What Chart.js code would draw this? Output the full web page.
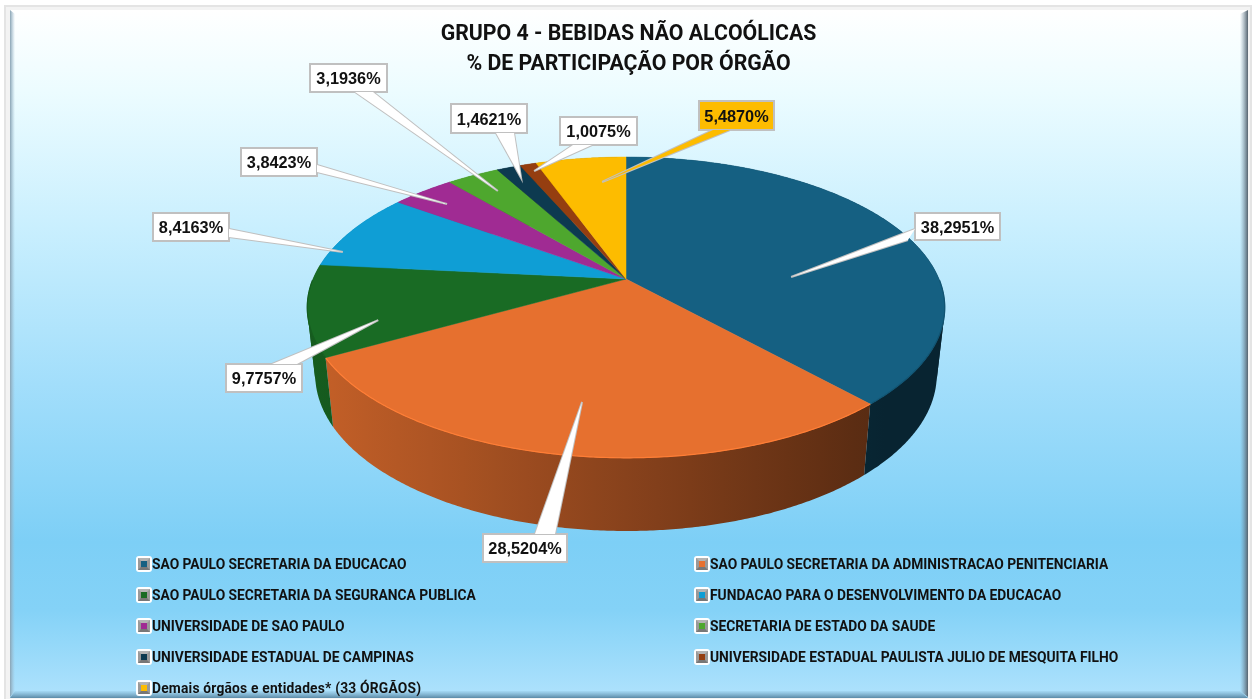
<!DOCTYPE html>
<html lang="pt-BR">
<head>
<meta charset="utf-8">
<title>Grupo 4 - Bebidas não alcoólicas</title>
<script src="https://cdn.jsdelivr.net/npm/chart.js@4"></script>
<style>
    html, body { margin: 0; padding: 0; background: #fff; }
    #wrap { position: relative; width: 1257px; height: 699px; overflow: hidden; }
    canvas { position: absolute; left: 0; top: 0; }
    #legend { position: absolute; left: 0; top: 0; font: 700 13.8px Roboto, sans-serif; color: #111; }
    .item { position: absolute; display: flex; align-items: center; white-space: nowrap; height: 18px; }
    .swatch { width: 16px; height: 16px; box-sizing: border-box; background: #fff; border-radius: 3px; padding: 2px; margin-right: 0; }
    .swatch i { display: block; width: 12px; height: 12px; box-sizing: border-box; border: 3px solid #999; border-top-color: #b4b4b4; border-bottom-color: #777; }
</style>
</head>
<body>
<div id="wrap">
    <canvas id="pie-chart" width="1257" height="699"></canvas>
    <div id="legend"></div>
</div>
<script>
const titleLines = ['GRUPO 4 - BEBIDAS NÃO ALCOÓLICAS', '% DE PARTICIPAÇÃO POR ÓRGÃO'];

const categories = [
    'SAO PAULO SECRETARIA DA EDUCACAO',
    'SAO PAULO SECRETARIA DA ADMINISTRACAO PENITENCIARIA',
    'SAO PAULO SECRETARIA DA SEGURANCA PUBLICA',
    'FUNDACAO PARA O DESENVOLVIMENTO DA EDUCACAO',
    'UNIVERSIDADE DE SAO PAULO',
    'SECRETARIA DE ESTADO DA SAUDE',
    'UNIVERSIDADE ESTADUAL DE CAMPINAS',
    'UNIVERSIDADE ESTADUAL PAULISTA JULIO DE MESQUITA FILHO',
    'Demais órgãos e entidades* (33 ÓRGÃOS)',
];
const shares = [38.2951, 28.5204, 9.7757, 8.4163, 3.8423, 3.1936, 1.4621, 1.0075, 5.4870];
const sliceColors = ['#156082', '#E6702F', '#196B24', '#0F9ED5', '#A02B93', '#4EA72E', '#0D3A50', '#953E10', '#FDBC00'];

// callout boxes [left, top, right, bottom] and the two points where the wedge leaves the box
const calloutBoxes = [
    [915, 213, 1000, 240], [483, 534, 567, 562], [226, 364, 302, 392],
    [153, 213, 229, 241], [241, 148, 317, 176], [310, 64, 387, 92],
    [451, 104, 527, 133], [560, 117, 637, 145], [699, 101, 774, 130],
];
const calloutBases = [
    [915, 229, 908, 240], [535, 534, 555, 534], [272, 364, 297, 364],
    [229, 229, 229, 237], [317, 165, 317, 172], [355, 92, 373, 92],
    [496, 133, 514, 133], [573, 145, 592, 145], [713, 130, 730, 130],
];
// wedge tips on the pie: degrees clockwise from the top, and fraction of the radius
const tipAngles = [88.5, 189.4, 250.3, 281.6, 312.1, 326, 334.3, 338.5, 353.5];
const tipRadii = [0.529, 0.741, 0.798, 0.957, 0.854, 0.827, 0.89, 0.932, 0.771];

// perspective of the tilted disc
const pie = { cx: 626, cy: 279, a: 313, b: 145, k: -0.189 };

const project = (r, angle) => {
    const u = r * Math.sin(angle);
    const v = -r * Math.cos(angle);
    const w = 1 + pie.k * v;
    return { x: pie.cx + pie.a * u / w, y: pie.cy + pie.b * v / w };
};

// the rim point dropped down to the bottom of the disc
const drop = (p) => ({ x: pie.cx + (p.x - pie.cx) * 0.975, y: p.y + 71 + (p.y - 403) * 0.04 });

const shade = (hex, f) => {
    const n = parseInt(hex.slice(1), 16);
    const c = [(n >> 16) & 255, (n >> 8) & 255, n & 255].map((x) => Math.min(255, Math.round(x * f)));
    return `rgb(${c[0]},${c[1]},${c[2]})`;
};

const framePlugin = {
    id: 'frame',
    beforeDraw(chart) {
        const ctx = chart.ctx;
        ctx.save();
        ctx.fillStyle = '#fff';
        ctx.fillRect(0, 0, 1257, 699);
        ctx.fillStyle = '#e4e4e4';
        ctx.fillRect(4, 5, 1248, 694);
        ctx.fillStyle = '#f3f3f3';
        ctx.fillRect(6, 7, 1244, 692);

        const bg = ctx.createLinearGradient(0, 10, 0, 692);
        bg.addColorStop(0, '#ffffff');
        bg.addColorStop(0.12, '#ecfcff');
        bg.addColorStop(0.32, '#c9effe');
        bg.addColorStop(0.55, '#a2defb');
        bg.addColorStop(0.78, '#7dcff6');
        bg.addColorStop(0.88, '#84d2f7');
        bg.addColorStop(1, '#ace1fc');
        ctx.fillStyle = bg;
        ctx.fillRect(10, 10, 1238, 688);

        const left = ctx.createLinearGradient(10, 0, 15, 0);
        left.addColorStop(0, '#8aa4b4');
        left.addColorStop(1, 'rgba(160,190,210,0)');
        ctx.fillStyle = left;
        ctx.beginPath();
        ctx.moveTo(10, 10);
        ctx.lineTo(15, 14);
        ctx.lineTo(15, 691);
        ctx.lineTo(10, 697);
        ctx.fill();

        const right = ctx.createLinearGradient(1240, 0, 1248, 0);
        right.addColorStop(0, 'rgba(120,150,170,0)');
        right.addColorStop(1, '#56636e');
        ctx.fillStyle = right;
        ctx.beginPath();
        ctx.moveTo(1248, 10);
        ctx.lineTo(1240, 14);
        ctx.lineTo(1240, 691);
        ctx.lineTo(1248, 697);
        ctx.fill();

        const bottom = ctx.createLinearGradient(0, 690, 0, 698);
        bottom.addColorStop(0, 'rgba(110,160,190,0)');
        bottom.addColorStop(1, '#5b8aa6');
        ctx.fillStyle = bottom;
        ctx.beginPath();
        ctx.moveTo(15, 691);
        ctx.lineTo(1240, 691);
        ctx.lineTo(1248, 698);
        ctx.lineTo(10, 698);
        ctx.fill();
        ctx.restore();
    },
};

const wallShade = (x) => Math.max(0.38, 0.84 - (x - 330) * 0.00084);

const fillStrip = (ctx, rim) => {
    if (rim.length < 2) return;
    ctx.beginPath();
    rim.forEach((p, n) => (n ? ctx.lineTo(p.x, p.y) : ctx.moveTo(p.x, p.y)));
    rim.slice().reverse().forEach((p) => {
        const q = drop(p);
        ctx.lineTo(q.x, q.y);
    });
    ctx.closePath();
    ctx.fill();
};

const drawSlices = (chart) => {
    const ctx = chart.ctx;
    const arcs = chart.getDatasetMeta(0).data;
    const colors = chart.data.datasets[0].backgroundColor;
    const step = Math.PI / 360;
    const toTop = (a) => a + Math.PI / 2;

    // side wall, shaded from left to right
    arcs.forEach((arc, i) => {
        const start = toTop(arc.startAngle);
        const end = toTop(arc.endAngle);
        const grad = ctx.createLinearGradient(300, 0, 950, 0);
        for (let s = 0; s <= 20; s++) {
            grad.addColorStop(s / 20, shade(colors[i], wallShade(300 + 650 * s / 20)));
        }
        ctx.fillStyle = grad;

        // the strip folds over itself at the sides of the disc, fill each run on its own
        const rim = [];
        for (let t = start; t < end; t += step) rim.push(project(1, t));
        rim.push(project(1, end));
        let run = [rim[0]];
        let lastSign = 0;
        for (let n = 1; n < rim.length; n++) {
            const p1 = rim[n - 1];
            const p2 = rim[n];
            const q1 = drop(p1);
            const cross = (p2.x - p1.x) * (q1.y - p1.y) - (p2.y - p1.y) * (q1.x - p1.x);
            const sign = Math.sign(cross);
            if (lastSign && sign !== lastSign) {
                fillStrip(ctx, run);
                run = [p1];
            }
            run.push(p2);
            lastSign = sign;
        }
        fillStrip(ctx, run);
    });

    // top face
    arcs.forEach((arc, i) => {
        const start = toTop(arc.startAngle);
        const end = toTop(arc.endAngle);
        const c = project(0, 0);
        ctx.fillStyle = colors[i];
        ctx.strokeStyle = colors[i];
        ctx.lineWidth = 0.5;
        ctx.beginPath();
        ctx.moveTo(c.x, c.y);
        for (let t = start; t < end; t += step) {
            const p = project(1, t);
            ctx.lineTo(p.x, p.y);
        }
        const last = project(1, end);
        ctx.lineTo(last.x, last.y);
        ctx.closePath();
        ctx.fill();
        ctx.stroke();
    });

    // light edge along the front of the rim
    arcs.forEach((arc, i) => {
        const start = toTop(arc.startAngle);
        const end = toTop(arc.endAngle);
        ctx.strokeStyle = shade(colors[i], i === 1 ? 1.12 : 0.88);
        ctx.lineWidth = 1.2;
        ctx.beginPath();
        let started = false;
        for (let t = start; t < end; t += step) {
            if (Math.cos(t) > 0) continue;
            const p = project(1, t);
            if (started) ctx.lineTo(p.x, p.y);
            else ctx.moveTo(p.x, p.y);
            started = true;
        }
        ctx.stroke();
    });
};

const drawCallouts = (chart) => {
    const ctx = chart.ctx;
    const values = chart.data.datasets[0].data;
    const colors = chart.data.datasets[0].backgroundColor;
    values.forEach((value, i) => {
        const [l, t, r, b] = calloutBoxes[i];
        const [x1, y1, x2, y2] = calloutBases[i];
        const tip = project(tipRadii[i], tipAngles[i] * Math.PI / 180);
        const fill = i === 8 ? colors[8] : '#fff';

        ctx.save();
        ctx.lineWidth = 2;
        ctx.strokeStyle = '#c0c0c0';
        ctx.fillStyle = fill;
        ctx.beginPath();
        ctx.moveTo(x1, y1);
        ctx.lineTo(tip.x, tip.y);
        ctx.lineTo(x2, y2);
        ctx.stroke();
        ctx.fillRect(l, t, r - l, b - t);
        ctx.strokeRect(l, t, r - l, b - t);
        ctx.beginPath();
        ctx.moveTo(x1, y1);
        ctx.lineTo(tip.x, tip.y);
        ctx.lineTo(x2, y2);
        ctx.closePath();
        ctx.fill();

        ctx.fillStyle = '#111';
        ctx.font = 'bold 16.3px "Liberation Sans", Arial, sans-serif';
        ctx.textAlign = 'center';
        ctx.textBaseline = 'middle';
        ctx.fillText(value.toFixed(4).replace('.', ',') + '%', (l + r) / 2, (t + b) / 2 + 2);
        ctx.restore();
    });
};

const pie3dPlugin = {
    id: 'pie3d',
    beforeDatasetsDraw(chart) {
        drawSlices(chart);
        drawCallouts(chart);
        return false;
    },
};

const chart = new Chart(document.getElementById('pie-chart'), {
    type: 'pie',
    data: {
        labels: categories,
        datasets: [{ data: shares, backgroundColor: sliceColors }],
    },
    options: {
        responsive: false,
        animation: false,
        plugins: {
            legend: { display: false },
            tooltip: { enabled: false },
            title: {
                display: true,
                text: titleLines,
                color: '#111',
                font: { family: 'Roboto, sans-serif', size: 21.3, weight: 'bold', lineHeight: 1.4 },
                padding: { top: 20, bottom: 10 },
            },
        },
    },
    plugins: [framePlugin, pie3dPlugin],
});

// two column legend under the pie
const legendEl = document.getElementById('legend');
categories.forEach((name, i) => {
    const row = Math.floor(i / 2);
    const item = document.createElement('div');
    item.className = 'item';
    item.style.left = (i % 2 ? 694 : 136) + 'px';
    item.style.top = (555 + row * 31) + 'px';
    if (i === 8) item.style.letterSpacing = '0.2px';
    item.innerHTML = `<span class="swatch"><i style="background:${sliceColors[i]}"></i></span><span>${name}</span>`;
    legendEl.appendChild(item);
});
</script>
</body>
</html>
